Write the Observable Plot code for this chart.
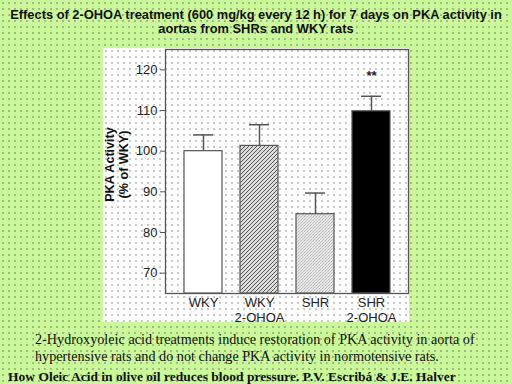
<!DOCTYPE html>
<html>
<head>
<meta charset="utf-8">
<script src="https://cdn.jsdelivr.net/npm/d3@7"></script>
<script src="https://cdn.jsdelivr.net/npm/@observablehq/plot@0.6"></script>
<style>
  html, body { margin: 0; padding: 0; }
  body {
    width: 512px; height: 384px; overflow: hidden; position: relative;
    background-color: #ccf89c;
    background-image: radial-gradient(circle, #9cbf7c 0.8px, transparent 1px);
    background-size: 6px 6px;
  }
  #title {
    position: absolute; left: 0; top: 8px; width: 512px; text-align: center;
    font: bold 12.85px "Liberation Sans", Arial, sans-serif; line-height: 14px; color: #111;
  }
  #panel {
    position: absolute; left: 103px; top: 48px; width: 306px; height: 274px;
    background-color: #ffffff;
    background-image: radial-gradient(circle, #c8c8c8 0.7px, transparent 1px);
    background-size: 6px 6px;
  }
  #caption {
    position: absolute; left: 35px; top: 331px; width: 475px;
    font: 14.2px "Liberation Serif", "Times New Roman", serif; line-height: 17px; color: #111;
  }
  #footer {
    position: absolute; left: 8px; top: 368px; white-space: nowrap;
    font: bold 13.5px "Liberation Serif", "Times New Roman", serif; line-height: 17px; color: #111;
  }
</style>
</head>
<body>
<div id="title">Effects of 2-OHOA treatment (600 mg/kg every 12 h) for 7 days on PKA activity in<br>aortas from SHRs and WKY rats</div>
<div id="panel"></div>
<div id="caption">2-Hydroxyoleic acid treatments induce restoration of PKA activity in aorta of hypertensive rats and do not change PKA activity in normotensive rats.</div>
<div id="footer">How Oleic Acid in olive oil reduces blood pressure. P.V. Escribá &amp; J.E. Halver</div>
<script>
const categories = ["WKY", "WKY\n2-OHOA", "SHR", "SHR\n2-OHOA"];
const means = [100, 101.3, 84.5, 109.8];
const errors = [4.0, 5.2, 5.2, 3.7];
const marks = ["", "", "", "**"];
const yTicks = [70, 80, 90, 100, 110, 120];
const yDomain = [65, 125];
const yLabel = "PKA Activity\n(% of WKY)";

const data = categories.map((c, i) => ({cat: c, mean: means[i], err: errors[i], mark: marks[i]}));
const fills = ["white", "url(#hatch)", "url(#stipple)", "black"];

const chart = Plot.plot({
  width: 306,
  height: 274,
  marginLeft: 62,
  marginRight: 1,
  marginTop: 1,
  marginBottom: 29,
  style: {background: "transparent", overflow: "visible", fontFamily: "'Liberation Sans', Arial, sans-serif", color: "#222"},
  x: {domain: categories, padding: 0.325, label: null},
  y: {domain: yDomain, label: null},
  color: {type: "ordinal", domain: categories, range: fills},
  marks: [
    Plot.frame({stroke: "#555", strokeWidth: 1.3}),
    Plot.ruleX(data, {x: "cat", y1: "mean", y2: d => d.mean + d.err, stroke: "#555", strokeWidth: 1.5}),
    Plot.tickY(data, {x: "cat", y: d => d.mean + d.err, stroke: "#555", strokeWidth: 1.5, inset: 9}),
    Plot.barY(data, {x: "cat", y1: () => yDomain[0], y2: "mean", fill: "cat", stroke: "#555", strokeWidth: 1.2}),
    Plot.text(data, {x: "cat", y: d => d.mean + d.err, text: "mark", dy: -20, fontSize: 13, fontWeight: "bold", fill: "#222"}),
    Plot.axisY(yTicks, {tickSize: 5, tickPadding: 3, fontSize: 13, stroke: "#555", fill: "#222"}),
    Plot.axisX({tickSize: 0, tickPadding: 3, fontSize: 13, lineHeight: 1.15, fill: "#222"}),
    Plot.text([yLabel], {text: d => d, frameAnchor: "left", textAnchor: "middle", rotate: -90, dx: -49, dy: -7, fontSize: 12.6, fontWeight: "bold", fill: "#111", lineHeight: 1.15})
  ]
});

d3.select(chart).insert("defs", ":first-child").html(`
  <pattern id="hatch" patternUnits="userSpaceOnUse" width="4" height="4">
    <rect width="4" height="4" fill="#dcdcdc"></rect>
    <path d="M-1,1 l2,-2 M0,4 l4,-4 M3,5 l2,-2" stroke="#555" stroke-width="1"></path>
  </pattern>
  <pattern id="stipple" patternUnits="userSpaceOnUse" width="3" height="3">
    <rect width="3" height="3" fill="#e6e6e6"></rect>
    <rect x="0" y="0" width="1" height="1" fill="#b8b8b8"></rect>
    <rect x="2" y="1" width="1" height="1" fill="#c8c8c8"></rect>
    <rect x="1" y="2" width="1" height="1" fill="#c0c0c0"></rect>
  </pattern>`);

document.getElementById("panel").appendChild(chart);
</script>
</body>
</html>
